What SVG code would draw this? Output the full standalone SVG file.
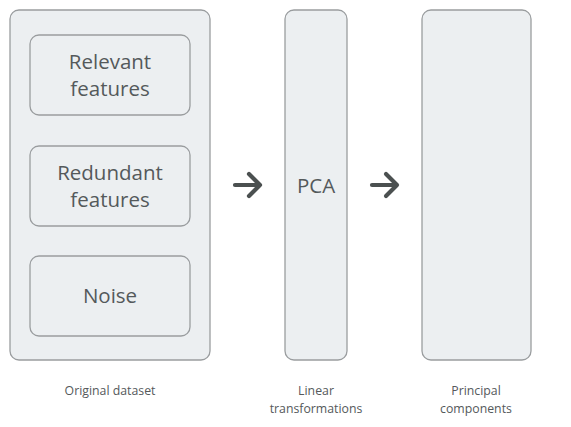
<svg xmlns="http://www.w3.org/2000/svg" width="571" height="427" viewBox="0 0 571 427">
<style>
.box{fill:#eceff1;stroke:#9a9d9f;stroke-width:1.3}
.lbl{font-family:"Open Sans","Noto Sans",sans-serif;font-size:20.5px;fill:#54595b;text-anchor:middle}
.cap{font-family:"Open Sans","Noto Sans",sans-serif;font-size:12.3px;fill:#55595b;text-anchor:middle}
.arr{fill:none;stroke:#4b5050;stroke-width:4.2;stroke-linecap:round;stroke-linejoin:round}
</style>
<rect width="571" height="427" fill="#ffffff"/>
<g id="original-dataset">
<rect class="box" x="10" y="10" width="200" height="350" rx="9"/>
<text class="cap" x="110" y="395">Original dataset</text>
</g>
<g id="relevant-features">
<rect class="box" x="30" y="35" width="160" height="80" rx="9"/>
<text class="lbl" x="110" y="69">Relevant</text>
<text class="lbl" x="110" y="96">features</text>
</g>
<g id="redundant-features">
<rect class="box" x="30" y="146" width="160" height="80" rx="9"/>
<text class="lbl" x="110" y="180">Redundant</text>
<text class="lbl" x="110" y="207">features</text>
</g>
<g id="noise">
<rect class="box" x="30" y="256" width="160" height="80" rx="9"/>
<text class="lbl" x="110" y="303">Noise</text>
</g>
<g id="pca">
<rect class="box" x="285" y="10" width="62" height="350" rx="9"/>
<text class="lbl" x="316" y="193">PCA</text>
<text class="cap" x="316" y="395">Linear</text>
<text class="cap" x="316" y="413">transformations</text>
</g>
<g id="principal-components">
<rect class="box" x="422" y="10" width="109" height="350" rx="9"/>
<text class="cap" x="476" y="395">Principal</text>
<text class="cap" x="476" y="413">components</text>
</g>
<g id="connectors">
<path class="arr" d="M235 185H260M249 174L260 185L249 196"/>
<path class="arr" d="M372 185H397M386 174L397 185L386 196"/>
</g>
</svg>
